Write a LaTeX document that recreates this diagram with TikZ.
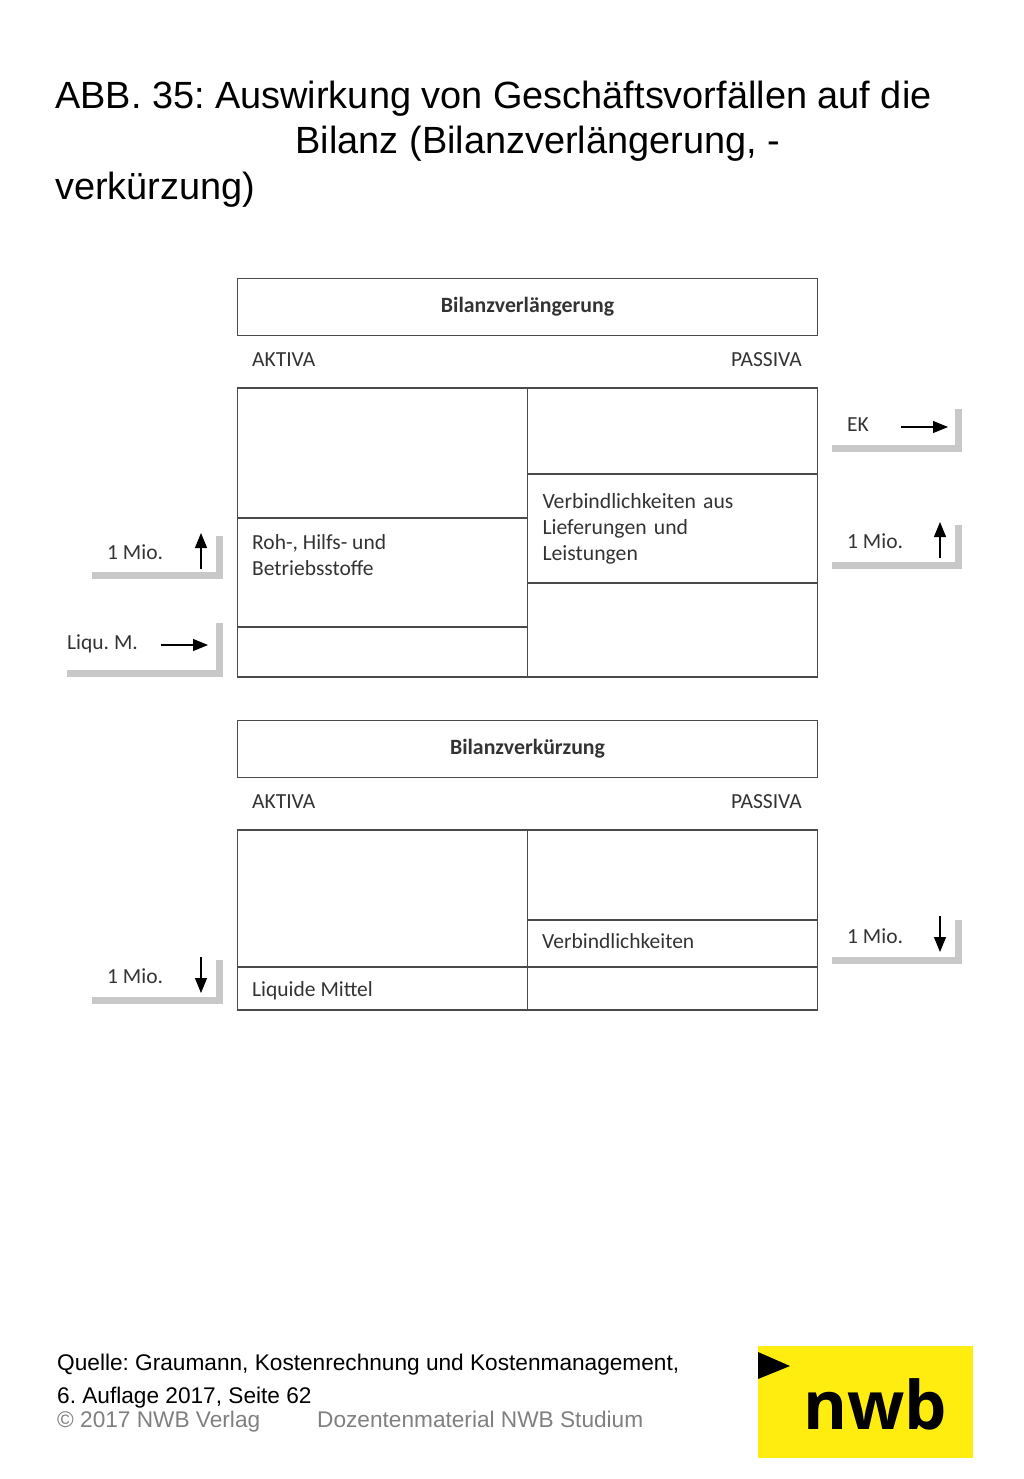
\documentclass[tikz,border=0pt]{standalone}
\usepackage{fontspec}
\usepackage{xcolor}
\setmainfont{Liberation Sans}
\newfontfamily\boxfont{Carlito}
\newfontfamily\logofont{Open Sans}
\definecolor{cellline}{HTML}{4A4A4A}
\definecolor{stepgray}{HTML}{C8C8C8}
\definecolor{logoyellow}{HTML}{FFED10}
\usetikzlibrary{arrows.meta, positioning}
\frenchspacing

\begin{document}
\begin{tikzpicture}[
    x=1pt, y=-1pt,
    >={Stealth[length=15pt,width=12pt,inset=0pt]},
    cell/.style={rectangle, draw=cellline, line width=1.4pt, minimum width=290pt, outer sep=0pt, inner xsep=15pt, inner ysep=0pt, text width=260pt, align=left, font=\boxfont\fontsize{21.7}{26}\selectfont, text=black!80},
    headbox/.style={rectangle, draw=cellline, line width=1.4pt, minimum width=580pt, minimum height=57pt, outer sep=0pt, font=\boxfont\bfseries\fontsize{21.8}{26}\selectfont, text=black!80},
    tag/.style={inner sep=0pt, align=left, font=\boxfont\fontsize{21.5}{26}\selectfont, text=black!80},
    slide/.style={inner sep=0pt, anchor=base west, font=\fontsize{37.9}{46}\selectfont},
    source/.style={inner sep=0pt, anchor=base west, font=\fontsize{22.65}{28}\selectfont},
    stepline/.style={stepgray, line width=7pt, line join=miter},
    move/.style={->, line width=1.1pt}
]
\useasboundingbox (0,0) rectangle (1024,1479);

% 1. Title
\node[slide] (title1) at (55,108.5) {ABB. 35: Auswirkung von Geschäftsvorfällen auf die};
\node[slide] (title2) at (295.5,154) {Bilanz (Bilanzverlängerung, -};
\node[slide] (title3) at (55,200) {verkürzung)};

% 2. Bilanzverlaengerung
\node[headbox, anchor=north west] (headA) at (237.5,278.5) {Bilanzverlängerung};
\node[tag, anchor=west] (aktivaA) at (252,360) {AKTIVA};
\node[tag, anchor=east] (passivaA) at (802,360) {PASSIVA};
\node[cell, anchor=north west, minimum height=130pt] (a1) at (237.5,388) {};
\node[cell, below=0pt of a1, minimum height=109pt] (a2) {};
\node[cell, below=0pt of a2, minimum height=50pt] (a3) {};
\node[cell, anchor=north west, minimum height=86pt] (p1) at (527.5,388) {};
\node[cell, below=0pt of p1, minimum height=109pt] (p2) {Verbindlichkeiten aus\\[0pt]Lieferungen und\\[0pt]Leistungen};
\node[cell, below=0pt of p2, minimum height=94pt] (p3) {};
\node[tag, below right=16pt and 14.5pt of a2.north west] (rohstoffe) {Roh-, Hilfs- und\\Betriebsstoffe};

% 3. Bilanzverkuerzung
\node[headbox, anchor=north west] (headB) at (237.5,720.5) {Bilanzverkürzung};
\node[tag, anchor=west] (aktivaB) at (252,802) {AKTIVA};
\node[tag, anchor=east] (passivaB) at (802,802) {PASSIVA};
\node[cell, anchor=north west, minimum height=137pt] (b1) at (237.5,830) {};
\node[cell, below=0pt of b1, minimum height=43pt] (b2) {};
\node[cell, anchor=north west, minimum height=90pt] (q1) at (527.5,830) {};
\node[cell, below=0pt of q1, minimum height=47pt] (q2) {};
\node[cell, below=0pt of q2, minimum height=43pt] (q3) {};
\node[tag, anchor=base west] (liquide) at (252,996) {Liquide Mittel};
\node[tag, anchor=base west] (verbind) at (542,948) {Verbindlichkeiten};

% 4. Side steps
\draw[stepline] (92,575.5) -| (219.5,536);
\draw[stepline] (67,673.5) -| (219.5,623);
\draw[stepline] (832,448.5) -| (958.5,409);
\draw[stepline] (832,565.5) -| (958.5,525);
\draw[stepline] (92,1000.5) -| (219.5,960);
\draw[stepline] (832,960.5) -| (958.5,920);

\node[tag, anchor=west] (mioA) at (107,552) {1 Mio.};
\node[tag, anchor=west] (liqu) at (67,644) {Liqu. M.};
\node[tag, anchor=west] (ek) at (847,425) {EK};
\node[tag, anchor=west] (mioP) at (847,541) {1 Mio.};
\node[tag, anchor=west] (mioB) at (107,976) {1 Mio.};
\node[tag, anchor=west] (mioQ) at (847,936) {1 Mio.};

\coordinate (mioAlow) at (201,569);
\coordinate (mioAtop) at (201,533);
\coordinate (liquin) at (161,645);
\coordinate (liquout) at (208,645);
\coordinate (ekin) at (901,427);
\coordinate (ekout) at (948,427);
\coordinate (mioPlow) at (940,558);
\coordinate (mioPtop) at (940,522);
\coordinate (mioBtop) at (201,957);
\coordinate (mioBlow) at (201,993);
\coordinate (mioQtop) at (940,916);
\coordinate (mioQlow) at (940,952);

\draw[move] (mioAlow) -- (mioAtop);
\draw[move] (liquin) -- (liquout);
\draw[move] (ekin) -- (ekout);
\draw[move] (mioPlow) -- (mioPtop);
\draw[move] (mioBtop) -- (mioBlow);
\draw[move] (mioQtop) -- (mioQlow);

% 5. Footer
\node[source] (quelle1) at (57,1370.5) {Quelle: Graumann, Kostenrechnung und Kostenmanagement,};
\node[source] (quelle2) at (57,1403.5) {6. Auflage 2017, Seite 62};
\node[source, text=black!50] (verlag) at (57,1427.5) {© 2017 NWB Verlag};
\node[source, text=black!50] (material) at (317,1427.5) {Dozentenmaterial NWB Studium};

% 6. Logo
\node[rectangle, fill=logoyellow, minimum width=215pt, minimum height=112pt, anchor=north west, outer sep=0pt] (logo) at (758,1346) {};
\fill[black] (758,1352) -- (790,1366) -- (758,1379) -- cycle;
\node[inner sep=0pt, anchor=base, font=\logofont\bfseries\fontsize{67}{67}\selectfont] (nwb) at (875.5,1429) {nwb};

\end{tikzpicture}
\end{document}
